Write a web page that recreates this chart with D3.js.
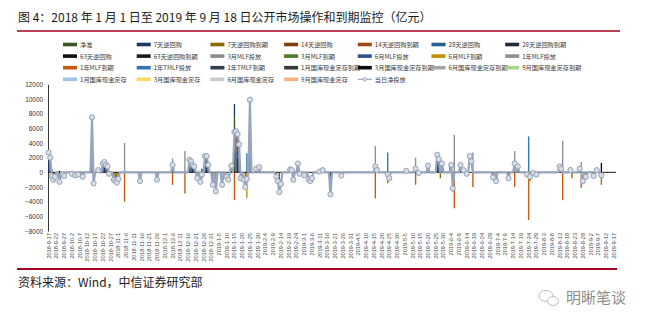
<!DOCTYPE html>
<html>
<head>
<meta charset="utf-8">
<script src="https://cdn.jsdelivr.net/npm/d3@7"></script>
<style>
  body { margin: 0; background: #fff; }
  svg { display: block; font-family: "Liberation Sans", Arial, "Noto Sans CJK SC", sans-serif; }
</style>
</head>
<body>
<svg id="chart" width="650" height="329"></svg>
<script>
// ---- category axis: calendar days ----
const firstDay = "2018-09-17";
const lastDay = "2019-09-18";
const labelEvery = 5;

// ---- y axis ticks (亿元) ----
const yTicks = [-8000, -6000, -4000, -2000, 0, 2000, 4000, 6000, 8000, 10000, 12000];

// ---- series: [date, 亿元] for days with an operation ----
const jingZhun = [["2018-10-15", 7500], ["2019-1-15", 7500], ["2019-1-25", 9900]];
const rr7 = [["2018-9-17", 2700], ["2018-9-18", 1400], ["2018-9-19", 400], ["2018-10-19", 300],
  ["2018-10-22", 1200], ["2018-10-23", 1400], ["2018-10-24", 1000], ["2018-10-25", 800],
  ["2018-12-17", 1600], ["2018-12-18", 1500], ["2018-12-19", 1000], ["2018-12-20", 800],
  ["2018-12-25", 500], ["2018-12-27", 2300], ["2018-12-28", 2200], ["2018-12-29", 1000],
  ["2019-1-13", 800], ["2019-1-15", 1800], ["2019-1-16", 3000], ["2019-1-17", 2000], ["2019-1-18", 3800],
  ["2019-2-25", 1200], ["2019-4-17", 1000], ["2019-5-26", 2700], ["2019-5-27", 1800], ["2019-5-29", 1200],
  ["2019-6-3", 1000], ["2019-6-4", 1000], ["2019-7-17", 800], ["2019-8-20", 700]];
const rr7Due = [["2018-9-19", -900], ["2018-9-20", -1100], ["2018-9-21", -600], ["2018-9-24", -1500],
  ["2018-9-26", -300], ["2018-9-27", -500], ["2018-10-16", -1400],
  ["2018-10-29", -1000], ["2018-10-30", -1200], ["2018-10-31", -1400], ["2018-11-1", -900],
  ["2018-12-25", -800], ["2019-1-1", -600], ["2019-1-3", -600], ["2019-1-22", -2000],
  ["2019-4-24", -1500], ["2019-5-28", -800], ["2019-6-5", -2600], ["2019-7-25", -1200], ["2019-8-21", -800]];
const rr14 = [["2019-1-16", 2600]];
const rr14Due = [["2019-2-11", -600], ["2019-2-13", -700], ["2019-7-1", -600]];
const rr28 = [["2018-9-18", 600], ["2019-1-17", 3200]];
const rr28Due = [["2019-1-1", -1100], ["2019-1-3", -2000], ["2019-2-13", -2000], ["2019-3-18", -3000],
  ["2019-7-11", -600]];
const rr63 = [["2018-9-24", 200], ["2019-1-29", 500], ["2019-3-13", 300], ["2019-9-9", 1300]];
const rr63Due = [];
const mlf3m = [];
const mlf3mDue = [];
const mlf6m = [["2019-6-10", 700]];
const mlf6mDue = [["2019-1-23", -3500], ["2019-8-27", -400], ["2019-9-5", -300]];
const mlf1y = [["2018-11-5", 4000], ["2018-12-6", 1900], ["2018-12-14", 2900], ["2019-4-16", 3600],
  ["2019-5-12", 2000], ["2019-6-6", 5100], ["2019-6-18", 2700], ["2019-7-15", 2900],
  ["2019-8-15", 4300], ["2019-8-27", 1400]];
const mlf1yDue = [["2018-11-5", -4000], ["2018-12-6", -1700], ["2018-12-14", -2900], ["2019-1-15", -3800],
  ["2019-4-16", -3550], ["2019-5-12", -1700], ["2019-6-6", -4900], ["2019-6-18", -2000],
  ["2019-7-15", -2000], ["2019-7-24", -6500], ["2019-8-15", -3800], ["2019-8-27", -1700], ["2019-9-9", -1700]];
const tmlf1y = [["2019-1-23", 2600], ["2019-4-24", 2700], ["2019-7-24", 4900]];
const tmlf1yDue = [];
const cash1mDue = [];
const cash3mDue = [];
const cash6mDue = [];
const cash9mDue = [];
const cash1m = [];
const cash3m = [];
const cash6m = [];
const cash9m = [];

// ---- 当日净投放 ----
const netInjection = [["2018-9-17", 2700], ["2018-9-18", 2000], ["2018-9-19", -500], ["2018-9-20", -1000],
  ["2018-9-21", -600], ["2018-9-24", -1300], ["2018-9-26", -300], ["2018-9-27", -500],
  ["2018-10-2", -200], ["2018-10-4", -400], ["2018-10-6", -300], ["2018-10-9", -600],
  ["2018-10-15", 7500], ["2018-10-16", -1500], ["2018-10-19", 300], ["2018-10-22", 1200],
  ["2018-10-23", 1400], ["2018-10-24", 1000], ["2018-10-25", 800], ["2018-10-26", -200],
  ["2018-10-29", -1000], ["2018-10-30", -1200], ["2018-10-31", -1400], ["2018-11-1", -900],
  ["2018-11-15", -1200], ["2018-11-26", -1000], ["2018-12-6", 1000],
  ["2018-12-17", 1700], ["2018-12-18", 1500], ["2018-12-19", 1000], ["2018-12-20", 800],
  ["2018-12-22", -800], ["2018-12-24", -1300], ["2018-12-25", -300], ["2018-12-27", 2200],
  ["2018-12-28", 2200], ["2018-12-29", 1000], ["2019-1-1", -1700], ["2019-1-3", -2600],
  ["2019-1-7", -1700], ["2019-1-10", -600], ["2019-1-11", -1000], ["2019-1-13", 900],
  ["2019-1-15", 5500], ["2019-1-16", 5600], ["2019-1-17", 5200], ["2019-1-18", 3800],
  ["2019-1-19", -800], ["2019-1-21", -1000], ["2019-1-22", -2000], ["2019-1-23", -900],
  ["2019-1-25", 9900], ["2019-1-29", 500], ["2019-1-31", 700],
  ["2019-2-11", -600], ["2019-2-12", -1200], ["2019-2-13", -2700], ["2019-2-14", -1600],
  ["2019-2-20", 400], ["2019-2-21", 300], ["2019-2-22", -1000], ["2019-2-25", 1200],
  ["2019-2-26", -200], ["2019-3-1", -400], ["2019-3-4", -1000], ["2019-3-5", -1200], ["2019-3-6", -800],
  ["2019-3-11", 100], ["2019-3-13", 300], ["2019-3-18", -3000], ["2019-3-25", -450],
  ["2019-4-16", 800], ["2019-4-17", 300], ["2019-4-24", -300], ["2019-4-25", -800],
  ["2019-5-6", 200], ["2019-5-12", 500], ["2019-5-14", -100], ["2019-5-20", 900],
  ["2019-5-26", 2400], ["2019-5-27", 1800], ["2019-5-29", 1200],
  ["2019-6-4", 1000], ["2019-6-5", -2200], ["2019-6-10", 1000], ["2019-6-12", 300], ["2019-6-14", -200],
  ["2019-6-16", 2200], ["2019-6-17", 1500], ["2019-7-1", -700], ["2019-7-3", -1200], ["2019-7-11", -800],
  ["2019-7-15", 1200], ["2019-7-17", 800], ["2019-7-23", -300], ["2019-7-25", -600], ["2019-7-27", -100],
  ["2019-7-29", -300], ["2019-8-13", 800], ["2019-8-14", 500], ["2019-8-20", 300],
  ["2019-8-26", 500], ["2019-8-28", -1200], ["2019-8-30", -600],
  ["2019-9-4", -500], ["2019-9-6", 300], ["2019-9-9", -400]];

// legend order (7 per row) with colours
const seriesNames = ["净准", "7天逆回购", "7天逆回购到期", "14天逆回购", "14天逆回购到期", "28天逆回购", "28天逆回购到期",
  "63天逆回购", "63天逆回购到期", "3月MLF投放", "3月MLF到期", "6月MLF投放", "6月MLF到期", "1年MLF投放",
  "1年MLF到期", "1年TMLF投放", "1年TMLF到期", "1月国库现金定存到期", "3月国库现金定存到期", "6月国库现金定存到期", "9月国库现金定存到期",
  "1月国库现金定存", "3月国库现金定存", "6月国库现金定存", "9月国库现金定存"];
const seriesValues = [jingZhun, rr7, rr7Due, rr14, rr14Due, rr28, rr28Due,
  rr63, rr63Due, mlf3m, mlf3mDue, mlf6m, mlf6mDue, mlf1y,
  mlf1yDue, tmlf1y, tmlf1yDue, cash1mDue, cash3mDue, cash6mDue, cash9mDue,
  cash1m, cash3m, cash6m, cash9m];
const seriesColors = ["#375623", "#1f3864", "#8a6a00", "#843c0c", "#9c4a16", "#255e91", "#222a35",
  "#111111", "#1a1a1a", "#8c8c8c", "#4e7a2c", "#2f528f", "#bf9000", "#8f8f8f",
  "#c55a11", "#2e75b6", "#333f50", "#3b3838", "#0d0d0d", "#a5a5a5", "#a9d18e",
  "#9dc3e6", "#ffd966", "#c9c9c9", "#f4b183"];
const netName = "当日净投放";
const netColor = "#97a6bc";

const svg = d3.select("#chart");
const parse = d3.timeParse("%Y-%m-%d");
const fmt = d3.timeFormat("%Y-%-m-%-d");
const categories = d3.timeDay.range(parse(firstDay), d3.timeDay.offset(parse(lastDay), 1)).map(fmt);
const tickLabels = categories.filter((d, i) => i % labelEvery === 0);

const x = d3.scaleBand().domain(categories).range([48, 616]).paddingInner(0.12);
const y = d3.scaleLinear().domain([-8000, 12000]).range([231, 84.3]);
const cx = d => x(d) + x.bandwidth() / 2;

// ---- title ----
svg.append("text").attr("x", 18).attr("y", 22)
  .attr("font-size", 12).attr("fill", "#1a1a1a")
  .style("font-family", "'Noto Sans CJK SC', sans-serif")
  .text("图 4：2018 年 1 月 1 日至 2019 年 9 月 18 日公开市场操作和到期监控（亿元）");
svg.append("line").attr("x1", 17).attr("x2", 620).attr("y1", 31).attr("y2", 31)
  .attr("stroke", "#a50021").attr("stroke-width", 1.3);

// ---- legend ----
const legendX = i => 63 + (i % 7) * 73.7;
const legendY = i => 44.5 + Math.floor(i / 7) * 11.6;
const leg = svg.append("g").attr("font-size", 6.2).attr("fill", "#3a3a3a")
  .style("font-family", "'Noto Sans CJK SC', sans-serif");
seriesNames.forEach((name, i) => {
  leg.append("rect").attr("x", legendX(i)).attr("y", legendY(i) - 1.8)
    .attr("width", 14).attr("height", 3.6).attr("fill", seriesColors[i]);
  leg.append("text").attr("x", legendX(i) + 17).attr("y", legendY(i))
    .attr("dominant-baseline", "central").text(name);
});
{
  const i = seriesNames.length;
  leg.append("line").attr("x1", legendX(i)).attr("x2", legendX(i) + 14)
    .attr("y1", legendY(i)).attr("y2", legendY(i)).attr("stroke", netColor).attr("stroke-width", 1.2);
  leg.append("circle").attr("cx", legendX(i) + 7).attr("cy", legendY(i)).attr("r", 1.8)
    .attr("fill", "#dde2ea").attr("stroke", netColor).attr("stroke-width", 0.8);
  leg.append("text").attr("x", legendX(i) + 17).attr("y", legendY(i))
    .attr("dominant-baseline", "central").text(netName);
}

// ---- y axis ----
const yAxis = svg.append("g").attr("transform", "translate(48,0)")
  .call(d3.axisLeft(y).tickValues(yTicks).tickSize(0).tickPadding(5).tickFormat(d3.format("d")));
yAxis.select(".domain").attr("stroke", "#000").attr("stroke-width", 0.8);
yAxis.selectAll("text").attr("font-size", 6.4).attr("fill", "#333");

// ---- stacked bars ----
const byDay = new Map();
seriesValues.forEach((arr, si) => arr.forEach(([d, v]) => {
  if (!byDay.has(d)) byDay.set(d, []);
  byDay.get(d).push({ si, v });
}));
const rects = [];
byDay.forEach((items, d) => {
  let up = 0, down = 0;
  items.sort((a, b) => a.si - b.si).forEach(({ si, v }) => {
    if (v >= 0) { rects.push({ d, si, y0: up, y1: up + v }); up += v; }
    else { rects.push({ d, si, y0: down + v, y1: down }); down += v; }
  });
});
svg.append("g").selectAll("rect").data(rects).join("rect")
  .attr("x", r => x(r.d)).attr("width", x.bandwidth())
  .attr("y", r => y(r.y1)).attr("height", r => Math.max(0.5, y(r.y0) - y(r.y1)))
  .attr("fill", r => seriesColors[r.si]);

// ---- category axis at zero ----
svg.append("line").attr("x1", 48).attr("x2", 616).attr("y1", y(0)).attr("y2", y(0))
  .attr("stroke", "#000").attr("stroke-width", 0.9);

// ---- 当日净投放 line ----
const netMap = new Map(netInjection);
const lastIdx = categories.indexOf(netInjection[netInjection.length - 1][0]);
const linePts = categories.slice(0, lastIdx + 1).map(d => [d, netMap.get(d) || 0]);
svg.append("path").datum(linePts)
  .attr("d", d3.line().x(p => cx(p[0])).y(p => y(p[1])))
  .attr("fill", "none").attr("stroke", netColor).attr("stroke-width", 2.2).attr("stroke-linejoin", "round");
svg.append("g").selectAll("circle").data(netInjection).join("circle")
  .attr("cx", p => cx(p[0])).attr("cy", p => y(p[1])).attr("r", 2.6)
  .attr("fill", "#d8dde5").attr("stroke", "#8d9cb2").attr("stroke-width", 0.9);

// ---- date labels ----
svg.append("g").attr("font-size", 5.6).attr("fill", "#444")
  .selectAll("text").data(tickLabels).join("text")
  .attr("transform", d => `translate(${cx(d) + 2},233) rotate(-90)`)
  .attr("text-anchor", "end").text(d => d);

// ---- footer ----
svg.append("line").attr("x1", 17).attr("x2", 617).attr("y1", 269).attr("y2", 269)
  .attr("stroke", "#a50021").attr("stroke-width", 1.8);
svg.append("text").attr("x", 18).attr("y", 287).attr("font-size", 12).attr("fill", "#1a1a1a")
  .style("font-family", "'Noto Sans CJK SC', sans-serif")
  .text("资料来源：Wind，中信证券研究部");
const mark = svg.append("g").attr("stroke", "#b5b5b5").attr("fill", "none").attr("stroke-width", 0.9);
mark.append("ellipse").attr("cx", 546).attr("cy", 296).attr("rx", 7).attr("ry", 5.5);
mark.append("ellipse").attr("cx", 553).attr("cy", 301).attr("rx", 5.5).attr("ry", 4.5).attr("fill", "#fff");
svg.append("text").attr("x", 566).attr("y", 303).attr("font-size", 15).attr("fill", "#8c8c8c")
  .style("font-family", "'Noto Sans CJK SC', sans-serif").text("明晰笔谈");
</script>
</body>
</html>
